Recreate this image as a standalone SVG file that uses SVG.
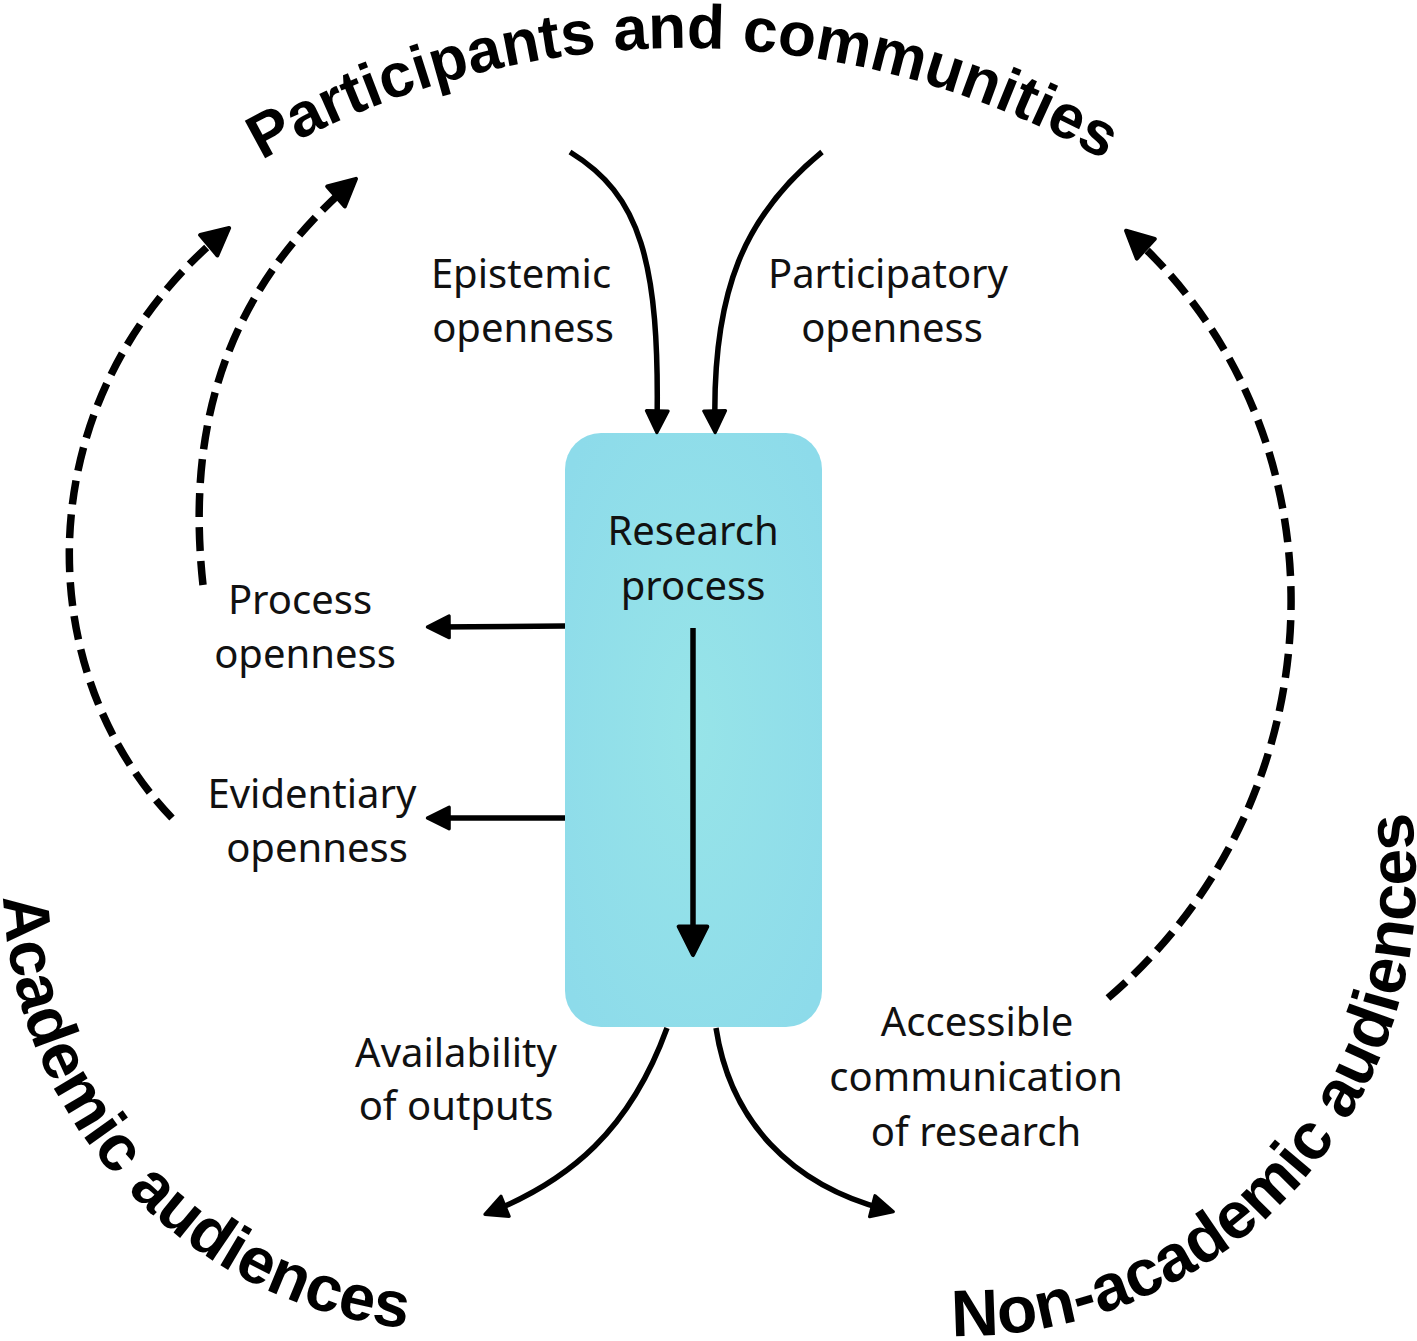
<svg xmlns="http://www.w3.org/2000/svg" width="1417" height="1341" viewBox="0 0 1417 1341">
  <style>
    .lbl { font-family: "Noto Sans", "Open Sans", sans-serif; font-size: 40px; fill: #111; text-anchor: middle; }
    .big { font-family: "Liberation Sans", Arial, sans-serif; font-weight: bold; font-size: 62px; fill: #000; }
    .solid { fill: none; stroke: #000; stroke-width: 5.5; }
    .dash { fill: none; stroke: #000; stroke-width: 7.5; stroke-dasharray: 24 10; }
  </style>
  <defs>
    <radialGradient id="boxfill" cx="50%" cy="50%" r="65%">
      <stop offset="0" stop-color="#97e4e8"/>
      <stop offset="1" stop-color="#8ddbea"/>
    </radialGradient>
    <marker id="ah" viewBox="0 0 24 24" refX="16" refY="12" markerWidth="26" markerHeight="26" markerUnits="userSpaceOnUse" orient="auto">
      <path d="M2,2 L22,12 L2,22 Z" fill="#000" stroke="#000" stroke-width="3" stroke-linejoin="round"/>
    </marker>
    <marker id="ahb" viewBox="0 0 24 24" refX="15" refY="12" markerWidth="34" markerHeight="34" markerUnits="userSpaceOnUse" orient="auto">
      <path d="M2,2 L22,12 L2,22 Z" fill="#000" stroke="#000" stroke-width="3" stroke-linejoin="round"/>
    </marker>
    <marker id="ahd" viewBox="0 0 24 24" refX="15" refY="12" markerWidth="32" markerHeight="32" markerUnits="userSpaceOnUse" orient="auto">
      <path d="M2,2 L22,12 L2,22 Z" fill="#000" stroke="#000" stroke-width="3" stroke-linejoin="round"/>
    </marker>
    <path id="arcTop" d="M138.6,246.2 A847,847 0 0 1 1227.4,246.2"/>
    <path id="arcAcad" d="M30.3,724.4 A452,452 0 0 0 609.6,1303.7"/>
    <path id="arcNon" d="M732,1274.9 A456,456 0 0 0 1328.9,612"/>
  </defs>

  <rect width="1417" height="1341" fill="#fff"/>

  <g id="research-process">
    <rect x="565" y="433" width="257" height="594" rx="36" fill="url(#boxfill)"/>
    <text class="lbl" x="693" y="545">Research</text>
    <text class="lbl" x="693" y="600">process</text>
    <path class="solid" d="M693,628 L693,945" stroke-width="8" marker-end="url(#ahb)"/>
  </g>

  <g id="participants">
    <text class="big"><textPath href="#arcTop" startOffset="50%" text-anchor="middle">Participants and communities</textPath></text>
  </g>
  <g id="academic">
    <text class="big" style="font-size:65px"><textPath href="#arcAcad" startOffset="48.5%" text-anchor="middle">Academic audiences</textPath></text>
  </g>
  <g id="non-academic">
    <text class="big" style="font-size:66px"><textPath href="#arcNon" startOffset="50.5%" text-anchor="middle">Non-academic audiences</textPath></text>
  </g>

  <g id="label-epistemic"><text class="lbl" x="521" y="288">Epistemic</text><text class="lbl" x="523" y="342">openness</text></g>
  <g id="label-participatory"><text class="lbl" x="888" y="288">Participatory</text><text class="lbl" x="892" y="342">openness</text></g>
  <g id="label-process"><text class="lbl" x="300" y="614">Process</text><text class="lbl" x="305" y="668">openness</text></g>
  <g id="label-evidentiary"><text class="lbl" x="312" y="808">Evidentiary</text><text class="lbl" x="317" y="862">openness</text></g>
  <g id="label-availability"><text class="lbl" x="456" y="1067">Availability</text><text class="lbl" x="456" y="1120">of outputs</text></g>
  <g id="label-accessible"><text class="lbl" x="977" y="1036">Accessible</text><text class="lbl" x="976" y="1091">communication</text><text class="lbl" x="976" y="1146">of research</text></g>

  <g id="connectors">
    <path class="solid" d="M570,152 C640,195 660,260 657,426" marker-end="url(#ah)"/>
    <path class="solid" d="M822,152 C745,215 712,290 715,426" marker-end="url(#ah)"/>
    <path class="solid" d="M565,626 L434,627" marker-end="url(#ah)"/>
    <path class="solid" d="M565,818 L434,818" marker-end="url(#ah)"/>
    <path class="solid" d="M667,1028 C630,1130 570,1180 491,1212" marker-end="url(#ah)"/>
    <path class="solid" d="M716,1028 C730,1120 790,1185 887,1210" marker-end="url(#ah)"/>
    <path class="dash" d="M172,818 C30,670 25,400 222,234" marker-end="url(#ahd)"/>
    <path class="dash" d="M203,585 C185,420 230,290 349,185" marker-end="url(#ahd)"/>
    <path class="dash" d="M1108,998 C1340,800 1355,440 1133,237" marker-end="url(#ahd)"/>
  </g>
</svg>
